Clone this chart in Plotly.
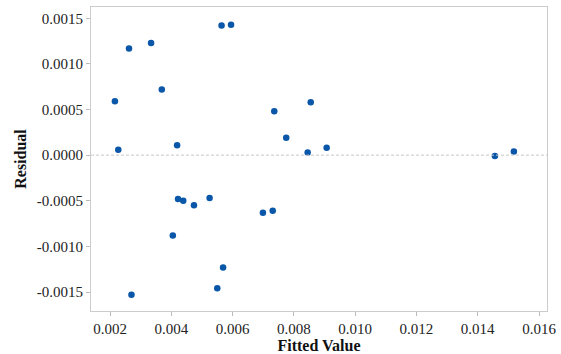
import plotly.graph_objects as go

fitted = [0.00216, 0.00227, 0.00262, 0.00270, 0.00334, 0.00369, 0.00419, 0.00405,
          0.00422, 0.00439, 0.00474, 0.00525, 0.00564, 0.00595, 0.00550, 0.00569,
          0.00699, 0.00731, 0.00736, 0.00775, 0.00845, 0.00855, 0.00907, 0.01456, 0.01518]
residual = [0.00059, 0.00006, 0.00117, -0.00153, 0.00123, 0.00072, 0.00011, -0.00088,
            -0.00048, -0.00050, -0.00055, -0.00047, 0.00142, 0.00143, -0.00146, -0.00123,
            -0.00063, -0.00061, 0.00048, 0.00019, 0.00003, 0.00058, 0.00008, -0.00001, 0.00004]

x_ticks = [0.002, 0.004, 0.006, 0.008, 0.010, 0.012, 0.014, 0.016]
y_ticks = [-0.0015, -0.0010, -0.0005, 0.0000, 0.0005, 0.0010, 0.0015]

fig = go.Figure()
fig.add_trace(go.Scatter(
    x=fitted, y=residual, mode="markers",
    marker=dict(color="#0A56A8", size=6.5, line=dict(width=0)),
    showlegend=False,
))
fig.add_hline(y=0, line=dict(color="#C8C8C8", width=1, dash="3px,2px"))

font = "'Liberation Serif', 'Times New Roman', serif"
fig.update_layout(
    width=561, height=354,
    margin=dict(l=91, r=14, t=7, b=43),
    paper_bgcolor="white", plot_bgcolor="white",
    font=dict(family=font, size=15, color="#222"),
    xaxis=dict(
        range=[0.00138, 0.01626], tickvals=x_ticks,
        ticktext=[f"{v:.3f}" for v in x_ticks],
        showgrid=False, zeroline=False, automargin=False,
        showline=True, linecolor="#CCCCCC", linewidth=1, mirror=True,
        ticks="outside", ticklen=4, tickcolor="#BBBBBB",
        tickfont=dict(size=15, family=font, color="#222"),
        title=dict(text="<b>Fitted Value</b>", font=dict(size=16, family=font, color="#111"), standoff=0),
    ),
    yaxis=dict(
        range=[-0.001708, 0.001624], tickvals=y_ticks,
        ticktext=[f"{v:.4f}" for v in y_ticks],
        showgrid=False, zeroline=False, automargin=False,
        showline=True, linecolor="#CCCCCC", linewidth=1, mirror=True,
        ticks="outside", ticklen=4, tickcolor="#BBBBBB",
        tickfont=dict(size=15, family=font, color="#222"),
        title=dict(text="<b>Residual</b>", font=dict(size=16, family=font, color="#111"), standoff=6),
    ),
)
fig.write_html("out.html")
